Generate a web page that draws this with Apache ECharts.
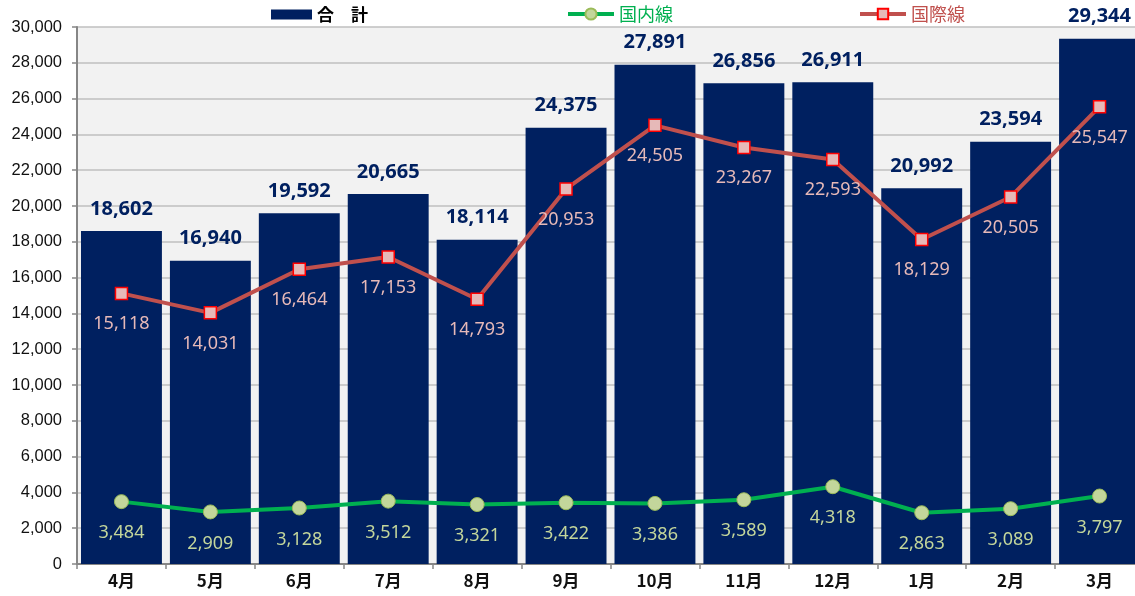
<!DOCTYPE html>
<html>
<head>
<meta charset="utf-8">
<script src="https://cdn.jsdelivr.net/npm/echarts@6/dist/echarts.min.js"></script>
<style>
  html, body { margin: 0; padding: 0; background: #ffffff; }
  #chart { width: 1135px; height: 596px; }
</style>
</head>
<body>
<div id="chart"></div>
<script>
// Monthly passenger counts: total, domestic and international
const months = ['4月', '5月', '6月', '7月', '8月', '9月', '10月', '11月', '12月', '1月', '2月', '3月'];
const totalValues = [18602, 16940, 19592, 20665, 18114, 24375, 27891, 26856, 26911, 20992, 23594, 29344];
const domesticValues = [3484, 2909, 3128, 3512, 3321, 3422, 3386, 3589, 4318, 2863, 3089, 3797];
const internationalValues = [15118, 14031, 16464, 17153, 14793, 20953, 24505, 23267, 22593, 18129, 20505, 25547];

const seriesNames = { total: '合\u3000計', domestic: '国内線', international: '国際線' };

const fmt = v => v.toLocaleString('en-US');

const chart = echarts.init(document.getElementById('chart'), null, { renderer: 'canvas' });

chart.setOption({
  animation: false,
  backgroundColor: '#ffffff',
  legend: [
    {
      data: [{ name: seriesNames.total, icon: 'rect' }],
      left: 266, top: 1,
      itemWidth: 41, itemHeight: 10, itemGap: 13,
      textStyle: { fontFamily: 'Noto Sans CJK JP', fontWeight: 'bold', fontSize: 17, color: '#000000' }
    },
    {
      data: [seriesNames.domestic],
      left: 561, top: 0,
      itemWidth: 46, itemHeight: 14, itemGap: 2,
      lineStyle: { width: 4 },
      textStyle: { fontFamily: 'Noto Sans CJK JP', fontSize: 18, color: '#00b050' }
    },
    {
      data: [seriesNames.international],
      left: 853, top: 0,
      itemWidth: 46, itemHeight: 13, itemGap: 2,
      lineStyle: { width: 4 },
      textStyle: { fontFamily: 'Noto Sans CJK JP', fontSize: 18, color: '#c0504d' }
    }
  ],
  // plot area runs slightly past the right edge of the canvas
  grid: {
    left: 77, width: 1067, top: 27, bottom: 32,
    outerBoundsMode: 'none',
    containLabel: false,
    show: true, backgroundColor: '#f2f2f2', borderWidth: 0
  },
  xAxis: {
    type: 'category',
    data: months,
    axisLine: { lineStyle: { color: '#868686', width: 2 } },
    axisTick: { show: true, length: 5, lineStyle: { color: '#868686', width: 1.5 } },
    axisLabel: {
      margin: 8,
      fontFamily: 'Noto Sans CJK JP', fontSize: 17, fontWeight: 'bold', color: '#111111'
    }
  },
  yAxis: {
    type: 'value',
    min: 0, max: 30000, interval: 2000,
    axisLine: { show: true, lineStyle: { color: '#868686', width: 2 } },
    axisTick: { show: true, length: 5, lineStyle: { color: '#868686', width: 1.5 } },
    splitLine: { lineStyle: { color: '#bfbfbf', width: 1.5 } },
    axisLabel: {
      margin: 15,
      fontFamily: 'Liberation Sans', fontSize: 16.5, color: '#111111',
      formatter: v => fmt(v)
    }
  },
  series: [
    {
      name: seriesNames.total,
      type: 'bar',
      data: totalValues,
      barCategoryGap: '9%',
      itemStyle: { color: '#002060' },
      label: {
        show: true, position: 'top', distance: 12,
        fontFamily: 'Noto Sans', fontWeight: 'bold', fontSize: 20, color: '#002060',
        formatter: p => fmt(p.value)
      },
      z: 2
    },
    {
      name: seriesNames.domestic,
      type: 'line',
      data: domesticValues,
      symbol: 'circle', symbolSize: 14,
      lineStyle: { color: '#00b050', width: 4 },
      itemStyle: { color: '#c3d69b', borderColor: '#9bbb59', borderWidth: 1 },
      label: {
        show: true, position: 'bottom', distance: 15,
        fontFamily: 'Noto Sans', fontSize: 18, color: '#c3d69b',
        formatter: p => fmt(p.value)
      },
      z: 4
    },
    {
      name: seriesNames.international,
      type: 'line',
      data: internationalValues,
      symbol: 'rect', symbolSize: 12,
      lineStyle: { color: '#c0504d', width: 4 },
      itemStyle: { color: '#e6b9b8', borderColor: '#ff0000', borderWidth: 1.5 },
      label: {
        show: true, position: 'bottom', distance: 15,
        fontFamily: 'Noto Sans', fontSize: 18, color: '#e6b9b8',
        formatter: p => fmt(p.value)
      },
      z: 4
    }
  ]
});
</script>
</body>
</html>
